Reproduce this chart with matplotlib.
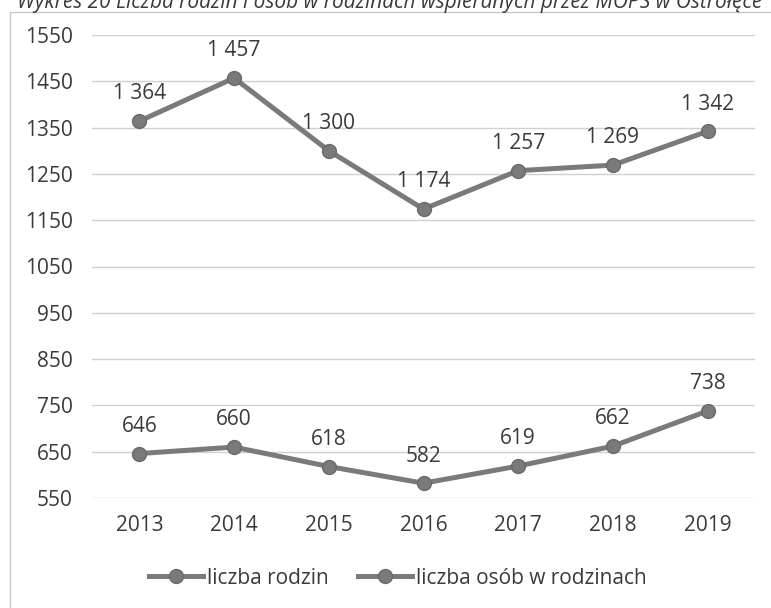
import matplotlib
matplotlib.use("Agg")
import matplotlib.pyplot as plt
from matplotlib.patches import Rectangle
from matplotlib.lines import Line2D

plt.rcParams['font.family'] = ['Open Sans', 'DejaVu Sans']

years = ["2013", "2014", "2015", "2016", "2017", "2018", "2019"]
rodziny = [1364, 1457, 1300, 1174, 1257, 1269, 1342]
osoby = [646, 660, 618, 582, 619, 662, 738]
series_names = ["liczba rodzin", "liczba osób w rodzinach"]
yticks = [550, 650, 750, 850, 950, 1050, 1150, 1250, 1350, 1450, 1550]
title = "Wykres 20 Liczba rodzin i osób w rodzinach wspieranych przez MOPS w Ostrołęce"

W, H = 771, 608
fig = plt.figure(figsize=(W / 100, H / 100), dpi=100)
ax = fig.add_axes([92 / W, (H - 498) / H, (755 - 92) / W, (498 - 35) / H])

text_col = '#3a3a3a'
line_col = '#7a7a7a'
fs = 15

x = list(range(len(years)))
for vals in (rodziny, osoby):
    ax.plot(x, vals, color=line_col, lw=3.6, marker='o', ms=10,
            mfc=line_col, mec='#6a6a6a', clip_on=False, zorder=3)
    for xi, v in zip(x, vals):
        lab = f"{v:,}".replace(",", " ")
        ax.annotate(lab, (xi, v), xytext=(0, 12), textcoords='offset points',
                    ha='center', va='bottom', fontsize=fs, color=text_col)

ax.set_xlim(-0.5, len(years) - 0.5)
ax.set_ylim(550, 1550)
ax.set_yticks(yticks)
ax.set_xticks(x)
ax.set_xticklabels(years)
ax.grid(axis='y', color='#d0d0d0', lw=1)
ax.set_axisbelow(True)
for s in ax.spines.values():
    s.set_visible(False)
ax.tick_params(length=0, labelsize=fs, colors=text_col)
ax.tick_params(axis='y', pad=14)
ax.tick_params(axis='x', pad=12)

handles = [Line2D([0], [0], color=line_col, lw=3.6, marker='o', ms=10,
                  mfc=line_col, mec='#6a6a6a') for _ in series_names]
fig.legend(handles, series_names, loc='center', ncol=2, frameon=False,
           bbox_to_anchor=(398 / W, 1 - 578 / H), fontsize=fs,
           handlelength=2.6, columnspacing=1.4, handletextpad=0.2,
           labelcolor=text_col)

fig.patches.append(Rectangle((10 / W, -0.05), 1.1, (H - 12) / H + 0.05,
                             transform=fig.transFigure, fill=False,
                             ec='#c8c8c8', lw=1))

fig.text(17 / W, 1 - 8 / H, title, ha='left', va='baseline', fontsize=15,
         style='italic', color=text_col)

fig.savefig("out.png", dpi=100)
